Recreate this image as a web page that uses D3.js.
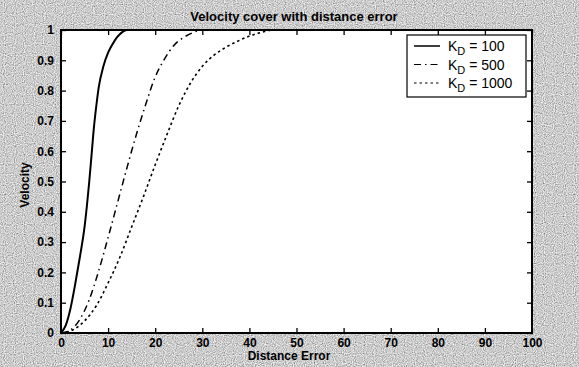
<!DOCTYPE html>
<html>
<head>
<meta charset="utf-8">
<script src="https://cdn.jsdelivr.net/npm/d3@7"></script>
<style>
  html, body { margin: 0; padding: 0; background: #b8b8b8; }
  svg { display: block; }
  text { font-family: "Liberation Sans", Arial, sans-serif; }
</style>
</head>
<body>
<svg id="chart" width="579" height="367"></svg>
<script>
// ---- data ----
const title = "Velocity cover with distance error";
const xLabel = "Distance Error";
const yLabel = "Velocity";
const xTicks = [0, 10, 20, 30, 40, 50, 60, 70, 80, 90, 100];
const yTicks = [0, 0.1, 0.2, 0.3, 0.4, 0.5, 0.6, 0.7, 0.8, 0.9, 1];
const yTickLabels = ["0", "0.1", "0.2", "0.3", "0.4", "0.5", "0.6", "0.7", "0.8", "0.9", "1"];

const kd100X = [0, 1, 2, 3, 4, 5, 5.5, 6, 6.5, 7, 7.5, 8, 9, 10, 11, 12, 13, 14, 100];
const kd100Y = [0, 0.025, 0.08, 0.16, 0.25, 0.35, 0.42, 0.5, 0.59, 0.68, 0.75, 0.81, 0.88, 0.925, 0.955, 0.978, 0.993, 1, 1];

const kd500X = [0, 2, 4, 6, 8, 10, 12, 14, 16, 18, 20, 22, 24, 26, 28, 30, 100];
const kd500Y = [0, 0.01, 0.045, 0.11, 0.205, 0.315, 0.43, 0.545, 0.655, 0.755, 0.845, 0.905, 0.95, 0.975, 0.991, 1, 1];

const kd1000X = [0, 2.5, 5, 7.5, 10, 12.5, 15, 17.5, 20, 22.5, 25, 27.5, 30, 32.5, 35, 37.5, 40, 42.5, 45, 100];
const kd1000Y = [0, 0.01, 0.04, 0.09, 0.165, 0.25, 0.35, 0.45, 0.555, 0.655, 0.75, 0.825, 0.88, 0.917, 0.943, 0.963, 0.98, 0.992, 1, 1];

const seriesNames = ["100", "500", "1000"];

// ---- layout ----
const svg = d3.select("#chart");
const W = 579, H = 367;
const pL = 61, pR = 532, pT = 30, pB = 333;

// grainy scanned-paper background
const defs = svg.append("defs");
const f = defs.append("filter").attr("id", "grain").attr("x", 0).attr("y", 0)
  .attr("width", "100%").attr("height", "100%");
f.append("feTurbulence").attr("type", "fractalNoise").attr("baseFrequency", 0.9)
  .attr("numOctaves", 1).attr("seed", 7).attr("result", "noise");
f.append("feColorMatrix").attr("type", "saturate").attr("values", 0).attr("in", "noise").attr("result", "gray");
const ct = f.append("feComponentTransfer").attr("in", "gray");
["feFuncR", "feFuncG", "feFuncB"].forEach(n =>
  ct.append(n).attr("type", "linear").attr("slope", 1.6).attr("intercept", -0.2));
ct.append("feFuncA").attr("type", "linear").attr("slope", 0).attr("intercept", 1);

svg.append("rect").attr("x", 0).attr("y", 0).attr("width", W).attr("height", H).attr("fill", "#b8b8b8");
svg.append("rect").attr("x", 0).attr("y", 0).attr("width", W).attr("height", H)
  .attr("fill", "#b8b8b8").attr("filter", "url(#grain)");

const x = d3.scaleLinear().domain([0, 100]).range([pL, pR]);
const y = d3.scaleLinear().domain([0, 1]).range([pB, pT]);

// plot area
svg.append("rect").attr("x", pL).attr("y", pT)
  .attr("width", pR - pL).attr("height", pB - pT).attr("fill", "#fff");

const series = [
  { name: seriesNames[0], xs: kd100X, ys: kd100Y, dash: null, width: 2 },
  { name: seriesNames[1], xs: kd500X, ys: kd500Y, dash: "7,4,1.5,4", width: 1.5 },
  { name: seriesNames[2], xs: kd1000X, ys: kd1000Y, dash: "2.5,3", width: 1.6 }
];

const line = d3.line()
  .x(d => x(d[0])).y(d => y(d[1]))
  .curve(d3.curveMonotoneX);

const plotG = svg.append("g");
series.forEach(s => {
  const pts = s.xs.map((v, i) => [v, s.ys[i]]);
  plotG.append("path")
    .attr("d", line(pts))
    .attr("fill", "none")
    .attr("stroke", "#000")
    .attr("stroke-width", s.width)
    .attr("stroke-dasharray", s.dash);
});

// axes (ticks inside, MATLAB style)
const fontTick = "bold 12px 'Liberation Sans', Arial, sans-serif";
const xAxisB = d3.axisBottom(x).tickValues(xTicks).tickSizeInner(-5).tickSizeOuter(0).tickPadding(5);
const xAxisT = d3.axisTop(x).tickValues(xTicks).tickSizeInner(-5).tickSizeOuter(0).tickFormat("");
const yAxisL = d3.axisLeft(y).tickValues(yTicks).tickSizeInner(-5).tickSizeOuter(0).tickPadding(7)
  .tickFormat((d, i) => yTickLabels[i]);
const yAxisR = d3.axisRight(y).tickValues(yTicks).tickSizeInner(-5).tickSizeOuter(0).tickFormat("");

function style(g) {
  g.select(".domain").remove();
  g.selectAll("line").attr("stroke", "#000").attr("stroke-width", 1.3);
  g.selectAll("text").attr("fill", "#000").style("font", fontTick);
}
svg.append("g").attr("transform", `translate(0,${pB})`).call(xAxisB).call(style);
svg.append("g").attr("transform", `translate(0,${pT})`).call(xAxisT).call(style);
svg.append("g").attr("transform", `translate(${pL},0)`).call(yAxisL).call(style);
svg.append("g").attr("transform", `translate(${pR},0)`).call(yAxisR).call(style);

// frame
svg.append("rect").attr("x", pL).attr("y", pT)
  .attr("width", pR - pL).attr("height", pB - pT)
  .attr("fill", "none").attr("stroke", "#000").attr("stroke-width", 2);

// title and labels
svg.append("text").attr("x", 294).attr("y", 21)
  .attr("text-anchor", "middle").style("font", "bold 13px 'Liberation Sans', Arial, sans-serif")
  .text(title);
svg.append("text").attr("x", 289).attr("y", 360)
  .attr("text-anchor", "middle").style("font", "bold 12px 'Liberation Sans', Arial, sans-serif")
  .text(xLabel);
svg.append("text").attr("transform", `translate(29,185) rotate(-90)`)
  .attr("text-anchor", "middle").style("font", "bold 12px 'Liberation Sans', Arial, sans-serif")
  .text(yLabel);

// legend
const lx = 407, ly = 35, lw = 119, lh = 62;
const leg = svg.append("g");
leg.append("rect").attr("x", lx).attr("y", ly).attr("width", lw).attr("height", lh)
  .attr("fill", "#fff").attr("stroke", "#000").attr("stroke-width", 1.2);
series.forEach((s, i) => {
  const yy = ly + 11 + i * 18.5;
  leg.append("line").attr("x1", lx + 7).attr("x2", lx + 33).attr("y1", yy).attr("y2", yy)
    .attr("stroke", "#000").attr("stroke-width", s.width === 2 ? 1.5 : 1.2)
    .attr("stroke-dasharray", s.dash);
  const t = leg.append("text").attr("x", lx + 41).attr("y", yy + 5)
    .style("font", "14px 'Liberation Sans', Arial, sans-serif").attr("fill", "#000");
  t.append("tspan").text("K");
  t.append("tspan").attr("dy", 4).style("font-size", "11px").text("D");
  t.append("tspan").attr("dy", -4).text(" = " + s.name);
});
</script>
</body>
</html>
